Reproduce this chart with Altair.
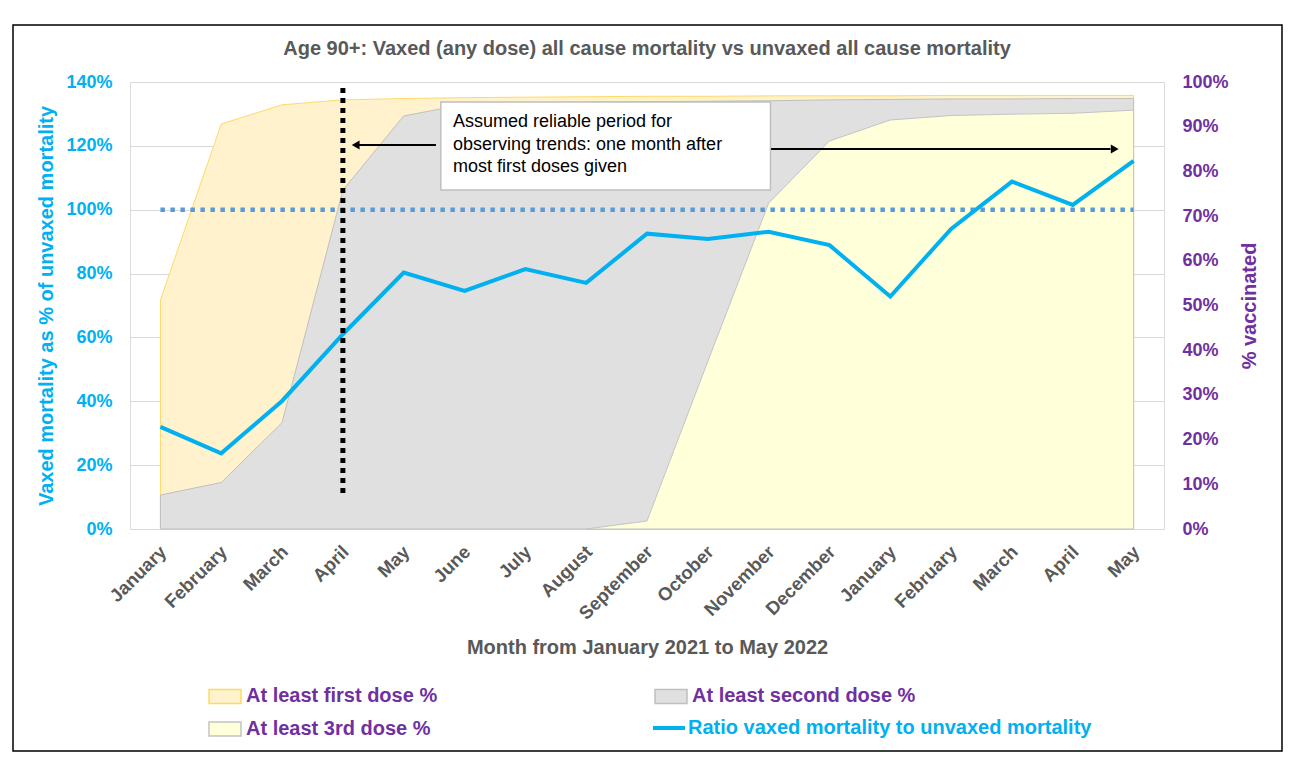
import json
import altair as alt
import pandas as pd

# ---------------- data ----------------
months = ["January", "February", "March", "April", "May", "June", "July",
          "August", "September", "October", "November", "December",
          "January", "February", "March", "April", "May"]
ratio = [32.0, 23.7, 40.1, 61.0, 80.3, 74.6, 81.4, 77.1, 92.5, 90.8, 93.1,
         88.9, 72.8, 94.0, 108.8, 101.5, 115.3]
first_dose = [51.2, 90.6, 94.9, 96.0, 96.3, 96.5, 96.6, 96.7, 96.8, 96.8,
              96.9, 96.9, 96.9, 97.0, 97.0, 97.0, 97.0]
second_dose = [7.6, 10.4, 23.8, 75.8, 92.4, 95.0, 95.3, 95.5, 95.6, 95.7,
               95.8, 96.0, 96.1, 96.2, 96.2, 96.3, 96.3]
third_dose = [None, None, None, None, None, None, None, 0.0, 1.8, 37.5, 72.9,
              86.8, 91.5, 92.5, 92.8, 93.0, 93.7]
reference = [100] * 17
dose_series = ["At least first dose %", "At least second dose %",
               "At least 3rd dose %"]
ratio_series = ["Ratio vaxed mortality to unvaxed mortality"]

note_lines = ["Assumed reliable period for",
              "observing trends: one month after",
              "most first doses given"]

# annotation anchors (data units: month index, left-axis %)
marker_month = [3]
marker_top = [138.1]
marker_bottom = [11.3]
box_x = [4.61]
box_x2 = [10.03]
box_top = [133.7]
box_bottom = [106.2]
note_x = [4.81, 4.81, 4.81]
note_y = [125.9, 118.7, 111.8]
arrow_left_from = [4.53]
arrow_left_to = [3.26]
arrow_left_y = [120.3]
arrow_right_from = [10.04]
arrow_right_to = [15.62]
arrow_right_y = [119.0]
head_left_x = [3.21]
head_right_x = [15.69]

FONT = "Liberation Sans"
idx = list(range(len(months)))

df_line = pd.DataFrame({"i": idx, "ratio": ratio, "ref": reference,
                        "series": ratio_series * len(idx)})
df_vax = pd.DataFrame({"i": idx, "first": first_dose, "second": second_dose,
                       "third": third_dose})

# ---------------- scales / axes ----------------
x_scale = alt.Scale(domain=[-0.5, len(months) - 0.5], nice=False, zero=False)
x_axis = alt.Axis(
    values=idx,
    labelExpr=json.dumps(months) + "[datum.value]",
    labelAngle=315, labelOverlap=False, grid=False, ticks=False,
    domainColor="#D9D9D9", domainWidth=1,
    labelColor="#595959", labelFont=FONT, labelFontSize=18.5,
    labelFontWeight="bold", labelPadding=13, labelOffset=-4,
    title="Month from January 2021 to May 2022",
    titleColor="#595959", titleFont=FONT, titleFontSize=20,
    titleFontWeight="bold", titlePadding=15,
)

yL_scale = alt.Scale(domain=[0, 140], nice=False)
yL_axis = alt.Axis(
    orient="left", values=list(range(0, 141, 20)),
    labelExpr="datum.value + '%'", grid=True, gridColor="#D9D9D9",
    domain=False, ticks=False, labelColor="#00B0F0", labelFont=FONT,
    labelFontSize=18, labelFontWeight="bold", labelPadding=18,
    title="Vaxed mortality as % of unvaxed mortality",
    titleColor="#00B0F0", titleFont=FONT, titleFontSize=20,
    titleFontWeight="bold", titlePadding=9,
)

yR_scale = alt.Scale(domain=[0, 100], nice=False)
yR_axis = alt.Axis(
    orient="right", values=list(range(0, 101, 10)),
    labelExpr="datum.value + '%'", grid=False, domain=False, ticks=False,
    labelColor="#7030A0", labelFont=FONT, labelFontSize=18,
    labelFontWeight="bold", labelPadding=18,
    title="% vaccinated", titleColor="#7030A0", titleFont=FONT,
    titleFontSize=20, titleFontWeight="bold", titleAngle=270,
    titlePadding=31,
)

fill_scale = alt.Scale(domain=dose_series,
                       range=["#FFF2CC", "#E0E0E0", "#FFFFD9"])
stroke_scale = alt.Scale(domain=dose_series,
                         range=["#FFD966", "#BFBFBF", "#C4C4C4"])
color_scale = alt.Scale(domain=ratio_series, range=["#00B0F0"])

dose_legend = alt.Legend(
    title=None, orient="none", legendX=78, legendY=597, columns=2,
    direction="horizontal", columnPadding=214, rowPadding=5, padding=0,
    symbolType="M-1,-0.44H1V0.44H-1Z", symbolSize=1024,
    symbolStrokeWidth=1.5, symbolOpacity=1,
    labelFont=FONT, labelFontSize=20, labelFontWeight="bold",
    labelOffset=4, labelLimit=0, labelColor="#7030A0",
)
ratio_legend = alt.Legend(
    title=None, orient="none", legendX=521, legendY=628, padding=0,
    symbolType="stroke", symbolSize=1024, symbolStrokeWidth=4,
    symbolOpacity=1,
    labelFont=FONT, labelFontSize=20, labelFontWeight="bold",
    labelOffset=1, labelLimit=0, labelColor="#00B0F0",
)

X = alt.X("i:Q", scale=x_scale, axis=x_axis)


def area_layer(field, name):
    return (
        alt.Chart(df_vax)
        .transform_calculate(series=json.dumps(name))
        .mark_area(strokeWidth=1, opacity=1, fillOpacity=1)
        .encode(
            x=X,
            y=alt.Y(f"{field}:Q", scale=yR_scale, axis=yR_axis),
            fill=alt.Fill("series:N", scale=fill_scale, legend=dose_legend),
            stroke=alt.Stroke("series:N", scale=stroke_scale,
                              legend=dose_legend),
        )
    )


areas = alt.layer(
    area_layer("first", dose_series[0]),
    area_layer("second", dose_series[1]),
    area_layer("third", dose_series[2]),
)

# ---------------- left-axis layers ----------------
frame = alt.Chart(pd.DataFrame({"a": [0]})).mark_rect(
    fill="transparent", stroke="black", strokeWidth=1.5
).encode(x=alt.value(-117), x2=alt.value(1152), y=alt.value(-57),
         y2=alt.value(669))

ref_line = alt.Chart(df_line).mark_line(
    color="#5B9BD5", strokeWidth=4.5, strokeDash=[4.5, 5.5]
).encode(x=X, y=alt.Y("ref:Q", scale=yL_scale, axis=yL_axis))

ratio_line = alt.Chart(df_line).mark_line(strokeWidth=4).encode(
    x=X, y=alt.Y("ratio:Q", scale=yL_scale, axis=yL_axis),
    color=alt.Color("series:N", scale=color_scale, legend=ratio_legend))

marker = alt.Chart(pd.DataFrame({"i": marker_month, "y": marker_top,
                                 "y2": marker_bottom})).mark_rule(
    color="black", strokeWidth=5, strokeDash=[5, 5]
).encode(x=X, y=alt.Y("y:Q", scale=yL_scale, axis=yL_axis), y2="y2:Q")

box = alt.Chart(pd.DataFrame({"i": box_x, "i2": box_x2, "y": box_top,
                              "y2": box_bottom})).mark_rect(
    fill="white", stroke="#BFBFBF", strokeWidth=1.5
).encode(x=X, x2="i2:Q", y=alt.Y("y:Q", scale=yL_scale, axis=yL_axis),
         y2="y2:Q")

note = alt.Chart(pd.DataFrame({"i": note_x, "y": note_y,
                               "t": note_lines})).mark_text(
    align="left", baseline="alphabetic", font=FONT, fontSize=18,
    color="black"
).encode(x=X, y=alt.Y("y:Q", scale=yL_scale, axis=yL_axis), text="t:N")

arrows = alt.Chart(pd.DataFrame({
    "i": arrow_left_from + arrow_right_from,
    "i2": arrow_left_to + arrow_right_to,
    "y": arrow_left_y + arrow_right_y,
})).mark_rule(color="black", strokeWidth=2).encode(
    x=X, x2="i2:Q", y=alt.Y("y:Q", scale=yL_scale, axis=yL_axis))

head_l = alt.Chart(pd.DataFrame({"i": head_left_x, "y": arrow_left_y})).mark_point(
    shape="triangle-left", filled=True, size=81, color="black", opacity=1
).encode(x=X, y=alt.Y("y:Q", scale=yL_scale, axis=yL_axis))

head_r = alt.Chart(pd.DataFrame({"i": head_right_x, "y": arrow_right_y})).mark_point(
    shape="triangle-right", filled=True, size=81, color="black", opacity=1
).encode(x=X, y=alt.Y("y:Q", scale=yL_scale, axis=yL_axis))

lines = alt.layer(frame, ref_line, ratio_line, marker, box, note, arrows,
                  head_l, head_r)

chart = (
    alt.layer(areas, lines)
    .resolve_scale(y="independent")
    .properties(
        width=1034, height=447,
        autosize=alt.AutoSizeParams(type="none"),
        padding={"left": 122, "top": 74, "right": 140, "bottom": 230},
        title=alt.Title(
            "Age 90+: Vaxed (any dose) all cause mortality vs unvaxed all cause mortality",
            font=FONT, fontSize=20, fontWeight="bold", color="#595959",
            anchor="middle", frame="group", offset=-35,
        ),
    )
    .configure_view(stroke=None)
    .configure(background="white")
)

chart.save("out.html", embed_options={"renderer": "svg", "actions": False})
